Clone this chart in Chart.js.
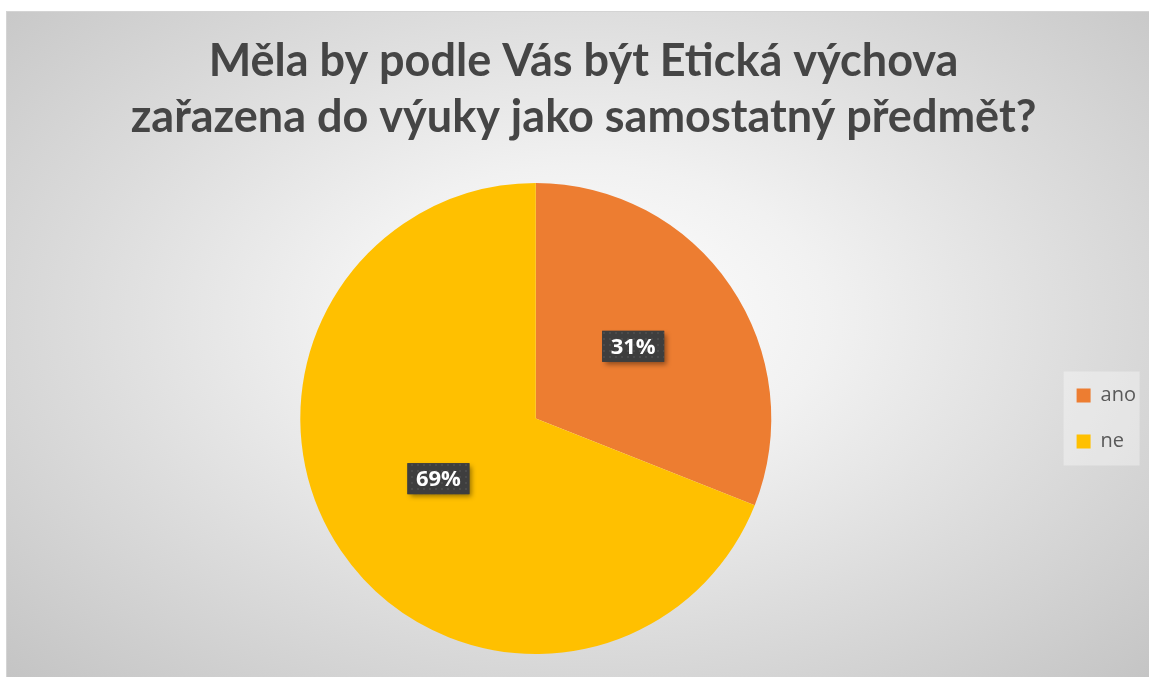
<!DOCTYPE html>
<html>
<head>
<meta charset="utf-8">
<script src="https://cdn.jsdelivr.net/npm/chart.js@4"></script>
<style>
  html, body { margin: 0; padding: 0; background: #fff; overflow: hidden; }
  #box {
    position: absolute; left: 6px; top: 11px; width: 1154px; height: 665px;
    border: 1px solid #d4d4d4;
    background: radial-gradient(ellipse farthest-corner at 50% 46%, #ffffff 0%, #f1f1f1 30%, #dcdcdc 62%, #c4c4c4 100%);
  }
  #chart { display: block; }
</style>
</head>
<body>
<div id="box"><canvas id="chart" width="1154" height="665"></canvas></div>
<script>
// --- Data ---
const categories = ['ano', 'ne'];
const percentValues = [31, 69];
const sliceColors = ['#ED7D31', '#FFC000'];
const titleLines = ['Měla by podle Vás být Etická výchova', 'zařazena do výuky jako samostatný předmět?'];

const titleFamily = 'Lato, "Open Sans", sans-serif';
const textFamily = '"Open Sans", "Noto Sans", sans-serif';

// fit title size so the long line is about as wide as in the original
const probe = document.createElement('canvas').getContext('2d');
probe.font = 'bold 40px ' + titleFamily;
const titleSize = Math.round(40 * 905 / probe.measureText(titleLines[1]).width);

// dotted fill used behind the data labels
function makeDots() {
    const c = document.createElement('canvas');
    c.width = 6; c.height = 6;
    const g = c.getContext('2d');
    g.fillStyle = '#3e3e3e';
    g.fillRect(0, 0, 6, 6);
    g.fillStyle = '#4b4b4b';
    g.fillRect(2, 2, 2, 2);
    return c;
}

// light panel behind the legend
const legendPanel = {
    id: 'legendPanel',
    beforeDraw(chart) {
        const boxes = chart.legend && chart.legend.legendHitBoxes;
        if (!boxes || !boxes.length) return;
        const ctx = chart.ctx;
        const first = boxes[0], last = boxes[boxes.length - 1];
        ctx.save();
        ctx.fillStyle = 'rgba(255,255,255,0.35)';
        ctx.fillRect(first.left - 13, first.top - 14, 76, last.top + last.height - first.top + 28);
        ctx.restore();
    }
};

// dark boxed percentage labels
const sliceLabels = {
    id: 'sliceLabels',
    afterDatasetsDraw(chart) {
        const ctx = chart.ctx;
        const meta = chart.getDatasetMeta(0);
        const pattern = ctx.createPattern(makeDots(), 'repeat');
        meta.data.forEach((arc, i) => {
            const p = arc.tooltipPosition();
            const w = 62, h = 31;
            const cy = p.y - 6;
            ctx.save();
            ctx.shadowColor = 'rgba(0,0,0,0.4)';
            ctx.shadowBlur = 5;
            ctx.shadowOffsetX = 3;
            ctx.shadowOffsetY = 3;
            ctx.fillStyle = '#404040';
            ctx.fillRect(p.x - w / 2, cy - h / 2, w, h);
            ctx.restore();
            ctx.save();
            ctx.fillStyle = pattern;
            ctx.fillRect(p.x - w / 2, cy - h / 2, w, h);
            ctx.fillStyle = '#ffffff';
            ctx.font = 'bold 22px ' + textFamily;
            ctx.textAlign = 'center';
            ctx.textBaseline = 'middle';
            ctx.fillText(percentValues[i] + '%', p.x, cy + 1);
            ctx.restore();
        });
    }
};

const ctx = document.getElementById('chart').getContext('2d');
const chart = new Chart(ctx, {
    type: 'pie',
    data: {
        labels: categories,
        datasets: [{
            data: percentValues,
            backgroundColor: sliceColors,
            borderWidth: 0
        }]
    },
    options: {
        responsive: false,
        animation: false,
        layout: { padding: { left: 14, right: 15, top: 0, bottom: 23 } },
        plugins: {
            title: {
                display: true,
                text: titleLines,
                color: '#454545',
                font: { family: titleFamily, size: titleSize, weight: 'bold', lineHeight: 56 / titleSize },
                padding: { top: 21, bottom: 38 }
            },
            legend: {
                position: 'right',
                fullSize: false,
                labels: {
                    boxWidth: 14,
                    boxHeight: 14,
                    padding: 26,
                    color: '#595959',
                    font: { family: textFamily, size: 20 }
                }
            },
            tooltip: { enabled: false }
        }
    },
    plugins: [legendPanel, sliceLabels]
});
</script>
</body>
</html>
